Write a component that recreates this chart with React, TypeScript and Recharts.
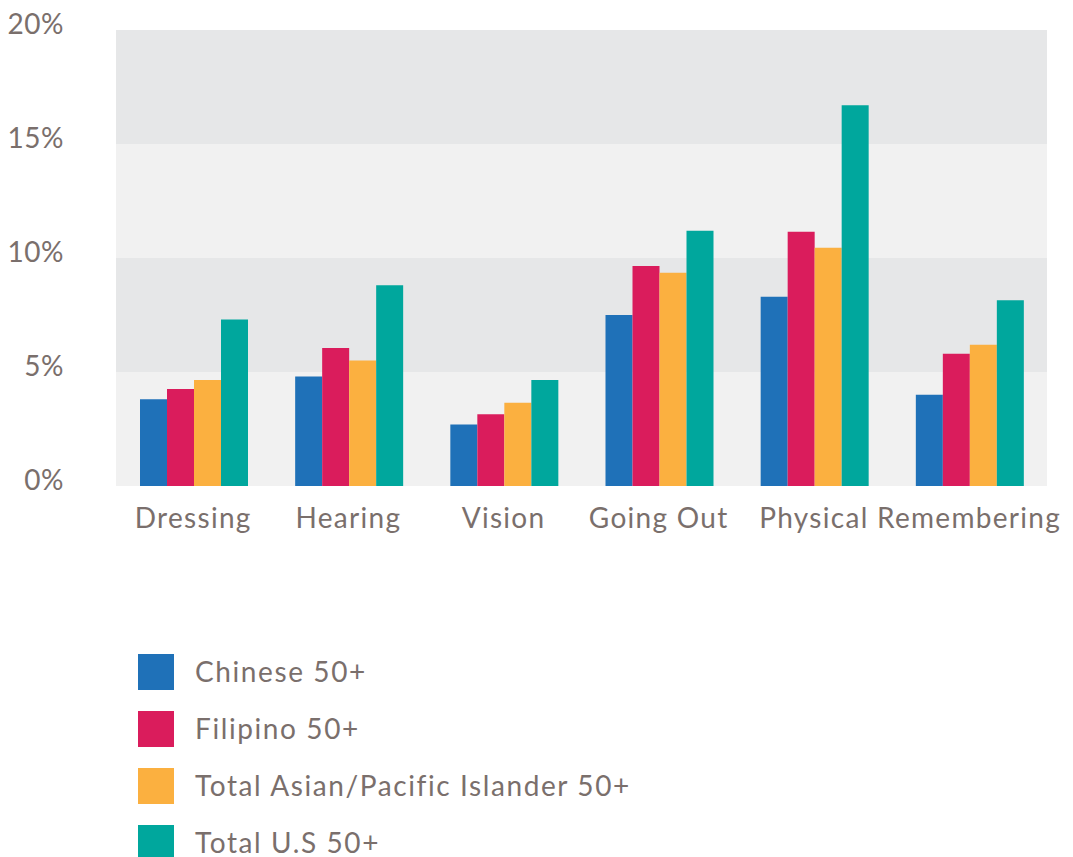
import { Bar, BarChart, ReferenceArea, XAxis, YAxis } from "recharts";

const categories = ["Dressing", "Hearing", "Vision", "Going Out", "Physical", "Remembering"];
const chinese = [3.8, 4.8, 2.7, 7.5, 8.3, 4.0];
const filipino = [4.25, 6.05, 3.15, 9.65, 11.15, 5.8];
const asianPacific = [4.65, 5.5, 3.65, 9.35, 10.45, 6.2];
const totalUS = [7.3, 8.8, 4.65, 11.2, 16.7, 8.15];
const yTicks = [0, 5, 10, 15, 20];
const bands = [
  [0, 5],
  [5, 10],
  [10, 15],
  [15, 20],
];

const series = [
  { key: "chinese", name: "Chinese 50+", color: "#1f71b8" },
  { key: "filipino", name: "Filipino 50+", color: "#da1c5c" },
  { key: "asianPacific", name: "Total Asian/Pacific Islander 50+", color: "#fbb040" },
  { key: "totalUS", name: "Total U.S 50+", color: "#00a79d" },
];

const data = categories.map((name, i) => ({
  name,
  chinese: chinese[i],
  filipino: filipino[i],
  asianPacific: asianPacific[i],
  totalUS: totalUS[i],
}));

const textColor = "#7a6f6c";
const font = "Lato, 'Open Sans', sans-serif";
const fontSize = 28;
const spacing = 1.3;

function YTick({ y, payload }: any) {
  return (
    <text
      x={64}
      y={y - 7}
      textAnchor="end"
      dominantBaseline="central"
      fill={textColor}
      fontSize={fontSize}
      fontFamily={font}
      letterSpacing={0.5}
    >
      {payload.value}%
    </text>
  );
}

function XTick({ x, y, payload }: any) {
  return (
    <text
      x={x + spacing / 2 - 1}
      y={y + 34}
      textAnchor="middle"
      fill={textColor}
      fontSize={fontSize}
      fontFamily={font}
      letterSpacing={spacing}
    >
      {payload.value}
    </text>
  );
}

export default function App() {
  return (
    <div style={{ position: "absolute", left: 0, top: 0, width: 1073, height: 857, background: "#fff" }}>
      <BarChart
        width={1073}
        height={560}
        data={data}
        margin={{ top: 30, right: 26, bottom: 0, left: 0 }}
        barCategoryGap={24}
        barGap={0}
      >
        {bands.map(([a, b], i) => (
          <ReferenceArea
            key={i}
            y1={a}
            y2={b}
            fill={i % 2 === 0 ? "#f1f1f1" : "#e6e7e8"}
            fillOpacity={1}
            stroke="none"
          />
        ))}
        <XAxis dataKey="name" height={74} axisLine={false} tickLine={false} tick={<XTick />} interval={0} />
        <YAxis
          width={116}
          domain={[0, 20]}
          ticks={yTicks}
          axisLine={false}
          tickLine={false}
          tick={<YTick />}
        />
        {series.map((s) => (
          <Bar key={s.key} dataKey={s.key} name={s.name} fill={s.color} isAnimationActive={false} />
        ))}
      </BarChart>
      <div style={{ position: "absolute", left: 138, top: 654 }}>
        {series.map((s, i) => (
          <div
            key={s.key}
            style={{ position: "absolute", left: 0, top: i * 57, display: "flex", alignItems: "center", whiteSpace: "nowrap" }}
          >
            <div style={{ width: 36, height: 36, background: s.color }} />
            <span
              style={{
                marginLeft: 21,
                color: textColor,
                fontSize,
                fontFamily: font,
                letterSpacing: 1.6,
                lineHeight: "36px",
                marginTop: -3,
              }}
            >
              {s.name}
            </span>
          </div>
        ))}
      </div>
    </div>
  );
}
